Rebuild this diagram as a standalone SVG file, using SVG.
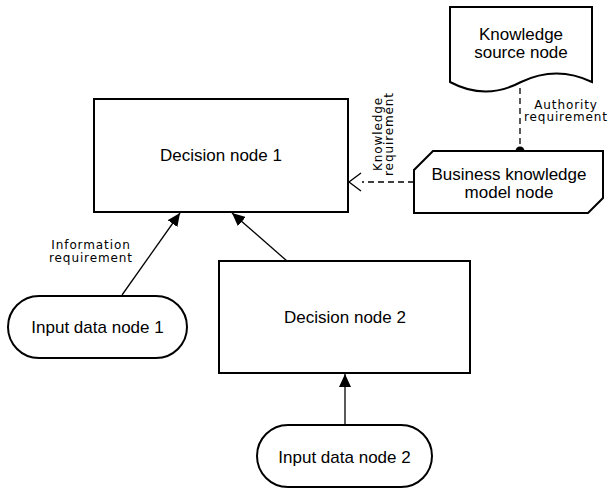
<svg xmlns="http://www.w3.org/2000/svg" width="610" height="489" viewBox="0 0 610 489">
<defs>
<style>
.node{fill:#fff;stroke:#000;stroke-width:2}
.nt{font-family:"Liberation Sans",Arial,sans-serif;font-size:17px;fill:#000;text-anchor:middle}
.lbl{font-family:"DejaVu Sans",Verdana,sans-serif;font-size:12px;letter-spacing:0.9px;fill:#000;text-anchor:middle}
.edge{fill:none;stroke:#000;stroke-width:1.3}
.dash{stroke-dasharray:6 4}
</style>
<marker id="filled" markerUnits="userSpaceOnUse" markerWidth="14" markerHeight="12" refX="13" refY="6" orient="auto">
<path d="M0,0 L13,6 L0,12 Z" fill="#000"/>
</marker>
</defs>
<rect width="610" height="489" fill="#fff"/>
<g id="connectors">
<line class="edge" x1="122" y1="295" x2="180" y2="213" marker-end="url(#filled)"/>
<line class="edge" x1="287" y1="261" x2="232" y2="213" marker-end="url(#filled)"/>
<line class="edge" x1="345" y1="425" x2="345" y2="374" marker-end="url(#filled)"/>
<line class="edge dash" x1="414" y1="182" x2="362" y2="182"/>
<path class="edge" d="M361,173 L349,182 L361,191"/>
<line class="edge dash" x1="520" y1="88" x2="520" y2="151"/>
<circle cx="520" cy="151" r="4.5" fill="#000"/>
<text class="lbl" x="91" y="249">Information</text>
<text class="lbl" x="91" y="262">requirement</text>
<text class="lbl" x="566" y="109">Authority</text>
<text class="lbl" x="566" y="121">requirement</text>
<g transform="translate(382,134) rotate(-90)">
<text class="lbl" x="0" y="0">Knowledge</text>
<text class="lbl" x="0" y="11">requirement</text>
</g>
</g>
<g id="decision1">
<rect class="node" x="94" y="99" width="254" height="113"/>
<text class="nt" x="221" y="161">Decision node 1</text>
</g>
<g id="decision2">
<rect class="node" x="219" y="261" width="251" height="112"/>
<text class="nt" x="345" y="323">Decision node 2</text>
</g>
<g id="input1">
<rect class="node" x="8" y="296" width="179" height="62" rx="31" ry="31"/>
<text class="nt" x="97.5" y="333">Input data node 1</text>
</g>
<g id="input2">
<rect class="node" x="257" y="425" width="175" height="62" rx="31" ry="31"/>
<text class="nt" x="344.5" y="463">Input data node 2</text>
</g>
<g id="knowledgeSource">
<path class="node" d="M450,7 H592 V82 Q556.5,65 521,82 Q485.5,101 450,82 Z"/>
<text class="nt" x="521" y="40">Knowledge</text>
<text class="nt" x="521" y="58">source node</text>
</g>
<g id="bkm">
<path class="node" d="M433,151 H603 V198 L588,213 H414 V170 Z"/>
<text class="nt" x="509" y="180">Business knowledge</text>
<text class="nt" x="509" y="198">model node</text>
</g>
</svg>
